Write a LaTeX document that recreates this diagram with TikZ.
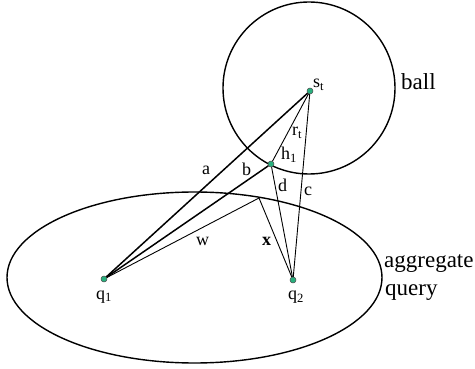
\documentclass[tikz,border=0pt]{standalone}
\usepackage{fontspec}
\setmainfont{Liberation Serif}
\definecolor{dotgreen}{RGB}{40,175,125}
\begin{document}
\begin{tikzpicture}[x=1pt,y=-1pt,
  dot/.style={circle,fill=dotgreen,draw=black!70,line width=0.5pt,inner sep=0pt,minimum size=6pt},
  lbl/.style={anchor=base west,inner sep=0pt,font=\fontsize{18}{20}\selectfont},
  big/.style={anchor=base west,inner sep=0pt,font=\fontsize{23}{27}\selectfont},
  heavy/.style={line width=1.5pt},
  light/.style={line width=0.9pt},
  outline/.style={line width=1.4pt}]
\useasboundingbox (0,0) rectangle (475,369);
% shapes
\draw[outline] (309,88) circle [radius=86pt];
\draw[outline] (194.5,277.5) ellipse [x radius=187.5pt, y radius=85.5pt];
% points
\coordinate (e) at (259,198);
\node[dot] (st) at (310,91) {};
\node[dot] (h1) at (271,164) {};
\node[dot] (q1) at (104,279) {};
\node[dot] (q2) at (293,280) {};
% connectors
\draw[heavy] (q1) -- (st);
\draw[heavy] (q1) -- (h1);
\draw[light] (q1) -- (e);
\draw[light] (e) -- (q2);
\draw[light] (h1) -- (q2);
\draw[light] (st) -- (q2);
\draw[light] (st) -- (h1);
% labels
\node[lbl] (la) at (202,175) {a};
\node[lbl] (lb) at (242,175.5) {b};
\node[lbl] (lrt) at (292,136) {r\textsubscript{t}};
\node[lbl] (lh) at (281,160) {h\textsubscript{1}};
\node[lbl] (ld) at (278,192) {d};
\node[lbl] (lc) at (304,196) {c};
\node[lbl] (lw) at (196,246) {w};
\node[lbl] (lx) at (262,246) {\textbf{x}};
\node[lbl] (lq1) at (96,299) {q\textsubscript{1}};
\node[lbl] (lq2) at (288,300) {q\textsubscript{2}};
\node[lbl] (lst) at (313,88) {s\textsubscript{t}};
\node[big] (ball) at (401,90) {ball};
\node[big] (agg) at (384,268) {aggregate};
\node[big] (qry) at (385,295) {query};
\end{tikzpicture}
\end{document}
